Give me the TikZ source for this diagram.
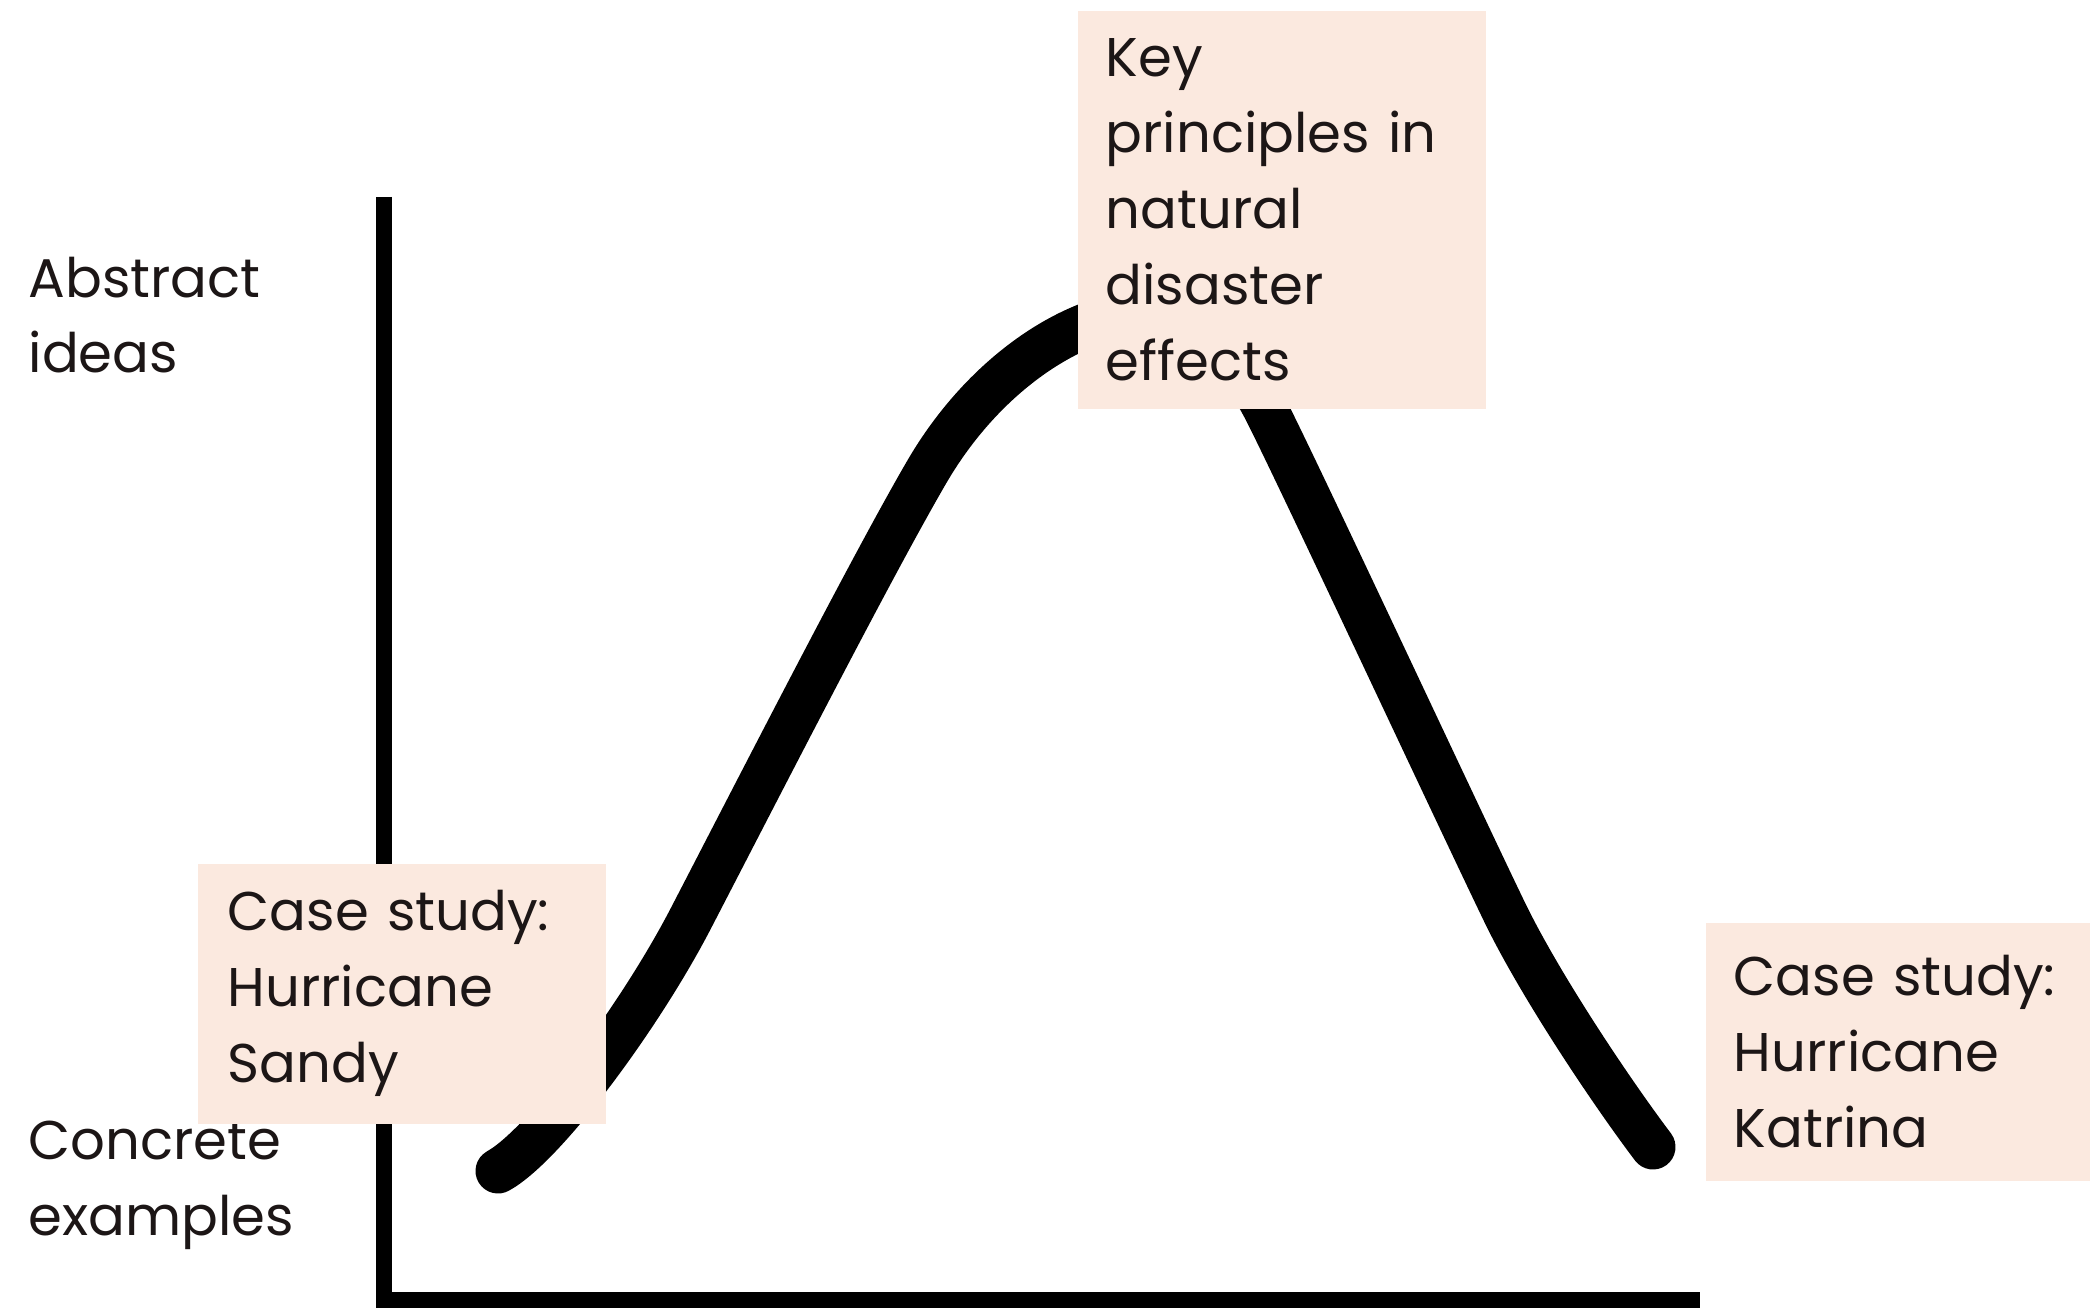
\documentclass[tikz,border=0pt]{standalone}
\usepackage{fontspec}
\setmainfont{Poppins}
\definecolor{notefill}{RGB}{251,233,223}
\definecolor{inkdark}{RGB}{28,22,22}

\begin{document}
\begin{tikzpicture}[x=0.01cm, y=-0.01cm,
  every node/.style={font=\fontsize{15.5}{21.6}\selectfont, text=inkdark},
  axis/.style={line width=4.4pt, line join=miter},
  hump/.style={line width=12.8pt, line cap=round, line join=round},
  note/.style={fill=notefill, anchor=north west, align=left, inner ysep=0pt}]
  \useasboundingbox (0,0) rectangle (2090,1310);

  % Axes
  \coordinate (ytop) at (384,197);
  \coordinate (origin) at (384,1300);
  \coordinate (xend) at (1700,1300);
  \draw[axis] (ytop) -- (origin) -- (xend);

  % Axis labels
  \node[anchor=north west, inner sep=0pt, align=left] (abstract) at (28,256) {Abstract\\ideas};
  \node[anchor=north west, inner sep=0pt, align=left] (concrete) at (28,1120) {Concrete\\examples};

  % The curve
  \draw[hump] (498,1171) .. controls (545,1145) and (640,1016) .. (690,920)
    .. controls (760,785) and (870,570) .. (925,475)
    .. controls (985,370) and (1080,312) .. (1150,312)
    .. controls (1200,312) and (1240,360) .. (1266,410)
    .. controls (1300,477) and (1460,820) .. (1505,913)
    .. controls (1540,985) and (1610,1090) .. (1653,1147);

  % Notes on top of the curve
  \node[note, text width=3.52cm, inner xsep=0.28cm, minimum height=3.98cm] (principles) at (1077,10)
    {Key\\principles in\\natural\\disaster\\effects};
  \node[note, text width=3.48cm, inner xsep=0.30cm, minimum height=2.60cm] (sandy) at (197,863)
    {Case study:\\Hurricane\\Sandy};
  \node[note, text width=3.29cm, inner xsep=0.28cm, minimum height=2.58cm] (katrina) at (1705,922)
    {Case study:\\Hurricane\\Katrina};
\end{tikzpicture}
\end{document}
